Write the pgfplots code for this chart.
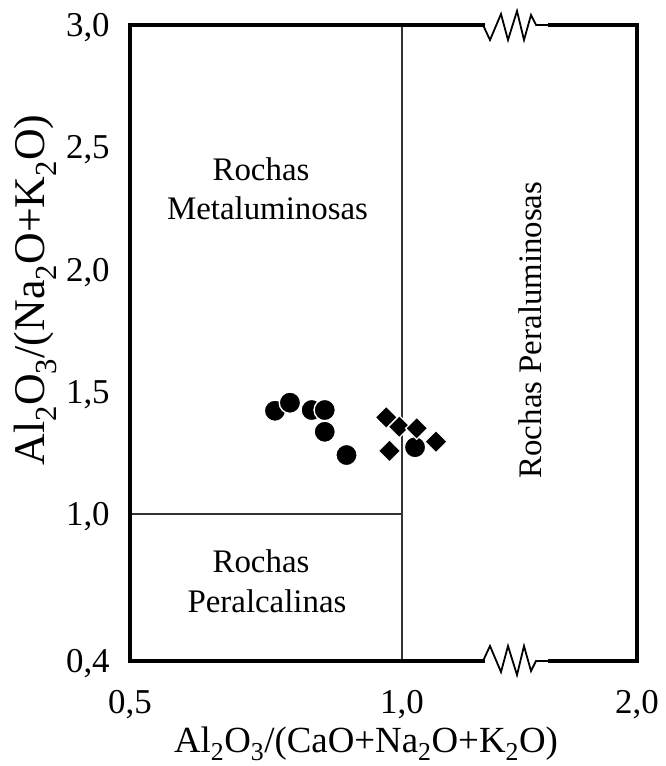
\documentclass[border=0pt]{standalone}
\usepackage{fontspec}
\setmainfont{Liberation Serif}
\usepackage{pgfplots}
\pgfplotsset{compat=1.18}
\begin{document}
\begin{tikzpicture}
\begin{axis}[
  at={(0,0)}, anchor=south west,
  scale only axis, width=507bp, height=636bp,
  xmin=0.5, xmax=1.432, ymin=0.4, ymax=3.0,
  axis lines=left,
  axis line style={draw=none},
  tick style={draw=none},
  xtick={0.5,1.0,1.432},
  xticklabels={{0,5},{1,0},{2,0}},
  ytick={0.4,1.0,1.5,2.0,2.5,3.0},
  yticklabels={{0,4},{1,0},{1,5},{2,0},{2,5},{3,0}},
  tick label style={font=\fontsize{35}{40}\selectfont},
  xticklabel style={anchor=base, inner sep=0pt, yshift=-50bp},
  yticklabel style={anchor=base east, inner sep=0pt, xshift=-18bp, yshift=-11.5bp},
  clip=false,
]
% internal dividing lines
\draw[line width=1.6bp, black!80] (axis cs:1.0,0.4) -- (axis cs:1.0,3.0);
\draw[line width=1.6bp, black!80] (axis cs:0.5,1.0) -- (axis cs:1.0,1.0);
% samples: circles
\addplot[only marks, mark=*, mark size=10.7bp,
  mark options={fill=black, draw=white, line width=1.4bp}] coordinates {
  (0.7665,1.423) (0.794,1.456) (0.834,1.426) (0.858,1.426)
  (0.858,1.337) (0.898,1.242) (1.024,1.274)
};
% samples: diamonds
\addplot[only marks, mark=square*, mark size=7.8bp,
  mark options={rotate=45, fill=black, draw=white, line width=1.2bp}] coordinates {
  (0.971,1.396) (0.995,1.358) (1.027,1.351) (0.977,1.259) (1.0625,1.297)
};
\end{axis}
% frame with broken top and bottom (1 px = 1 bp, origin at pixel (130,661))
\draw[line width=3.2bp, line cap=rect] (353bp,636bp) -- (0bp,636bp) -- (0bp,0bp) -- (353bp,0bp);
\draw[line width=3.2bp, line cap=rect] (420bp,636bp) -- (507bp,636bp) -- (507bp,0bp) -- (420bp,0bp);
% zigzags
\draw[line width=1.8bp, line join=miter]
  (353bp,636bp) -- ++(7bp,-15bp) -- ++(11bp,26bp) -- ++(7bp,-26bp) -- ++(9bp,29bp)
  -- ++(7bp,-29bp) -- ++(7bp,25bp) -- ++(5bp,-10bp) -- (420bp,636bp);
\draw[line width=1.8bp, line join=miter]
  (353bp,0bp) -- ++(7bp,15bp) -- ++(11bp,-26bp) -- ++(7bp,26bp) -- ++(9bp,-29bp)
  -- ++(7bp,29bp) -- ++(7bp,-25bp) -- ++(5bp,10bp) -- (420bp,0bp);
% region labels
\tikzset{reg/.style={anchor=base, inner sep=0pt, font=\fontsize{33}{38}\selectfont}}
\node[reg] at (131bp,480bp) {Rochas};
\node[reg] at (137.5bp,441bp) {Metaluminosas};
\node[reg] at (131bp,88bp) {Rochas};
\node[reg] at (137bp,48bp) {Peralcalinas};
\node[reg, rotate=90] at (411bp,331bp) {Rochas Peraluminosas};
% axis titles
\node[anchor=base, inner sep=0pt, font=\fontsize{37}{42}\selectfont] at (236bp,-91bp)
  {Al\textsubscript{2}O\textsubscript{3}/(CaO+Na\textsubscript{2}O+K\textsubscript{2}O)};
\node[anchor=base, inner sep=0pt, rotate=90, font=\fontsize{44}{50}\selectfont] at (-85bp,371bp)
  {Al\textsubscript{2}O\textsubscript{3}/(Na\textsubscript{2}O+K\textsubscript{2}O)};
% fix the picture size to the reference's proportions
\pgfresetboundingbox
\path (-130bp,-105bp) rectangle (536bp,661bp);
\end{tikzpicture}
\end{document}
